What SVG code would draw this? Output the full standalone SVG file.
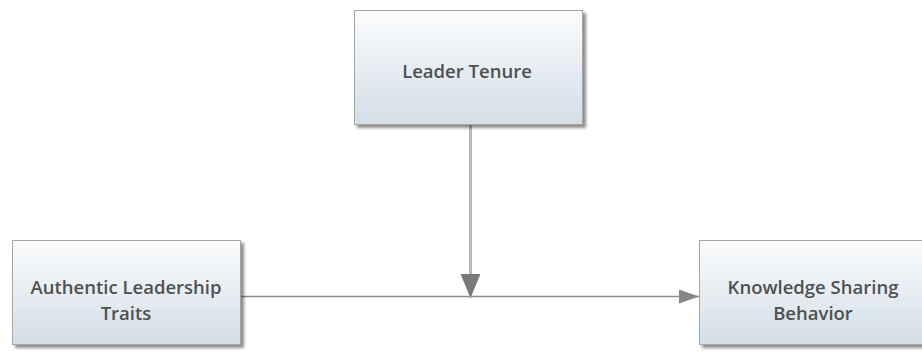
<svg xmlns="http://www.w3.org/2000/svg" width="922" height="356" viewBox="0 0 922 356">
  <defs>
    <linearGradient id="boxFill" x1="0" y1="0" x2="0" y2="1">
      <stop offset="0" stop-color="#fbfcfd"/>
      <stop offset="1" stop-color="#d3dee7"/>
    </linearGradient>
    <filter id="shadow" x="-10%" y="-10%" width="130%" height="130%">
      <feGaussianBlur in="SourceAlpha" stdDeviation="1.5"/>
      <feOffset dx="3" dy="3" result="b"/>
      <feComponentTransfer><feFuncA type="linear" slope="0.45"/></feComponentTransfer>
      <feMerge><feMergeNode/><feMergeNode in="SourceGraphic"/></feMerge>
    </filter>
    <marker id="arrowDark" viewBox="0 0 20 14" refX="20" refY="7" markerWidth="20" markerHeight="14" markerUnits="userSpaceOnUse" orient="auto">
      <path d="M0,0 L20,7 L0,14 Z" fill="#858585"/>
    </marker>
    <marker id="arrowDown" viewBox="0 0 24 20" refX="24" refY="10" markerWidth="24" markerHeight="20" markerUnits="userSpaceOnUse" orient="auto">
      <path d="M0,0 L24,10 L0,20 Z" fill="#7a7a7a"/>
    </marker>
  </defs>
  <style>
    .box { fill: url(#boxFill); stroke: #a6a6a6; stroke-width: 1; filter: url(#shadow); }
    .label { font-family: "Open Sans", "Liberation Sans", sans-serif; font-weight: 600; font-size: 18.5px; fill: #505050; text-anchor: middle; dominant-baseline: central; }
  </style>
  <rect width="922" height="356" fill="#ffffff"/>

  <g id="connectors">
    <line x1="240" y1="296.5" x2="699" y2="296.5" stroke="#8a8a8a" stroke-width="1.6" marker-end="url(#arrowDark)"/>
    <line x1="470.5" y1="125" x2="470.5" y2="298" stroke="#b8b8b8" stroke-width="3" marker-end="url(#arrowDown)"/>
  </g>

  <g id="leader-tenure">
    <rect class="box" x="354.5" y="10.5" width="228" height="114"/>
    <text class="label" x="467" y="70">Leader Tenure</text>
  </g>

  <g id="authentic-leadership-traits">
    <rect class="box" x="12.5" y="240.5" width="228" height="104"/>
    <text class="label" x="126" y="286">Authentic Leadership</text>
    <text class="label" x="126" y="312">Traits</text>
  </g>

  <g id="knowledge-sharing-behavior">
    <rect class="box" x="699.5" y="240.5" width="228" height="104"/>
    <text class="label" x="813" y="286">Knowledge Sharing</text>
    <text class="label" x="813" y="312">Behavior</text>
  </g>
</svg>
